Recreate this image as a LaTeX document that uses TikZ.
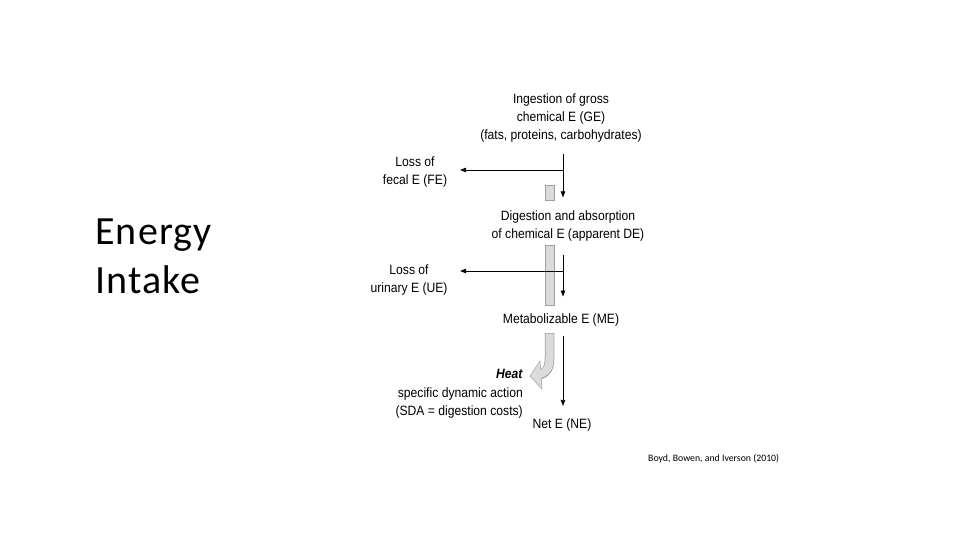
\documentclass[tikz,border=0pt]{standalone}
\usepackage{fontspec}
\setmainfont{Liberation Sans}
\newfontfamily\diagfont[FakeStretch=0.9]{Liberation Sans}
\newfontfamily\slidefont[LetterSpace=3]{Carlito}
\newfontfamily\citefont{Carlito}
\usetikzlibrary{arrows.meta}
\tikzset{
  lbl/.style={font=\diagfont\fontsize{13.5}{18.3}\selectfont, align=center, inner sep=0pt},
  flow/.style={-{Triangle[length=6pt,width=4.5pt]}, line width=0.7pt},
  gut/.style={draw=gray!75, fill=gray!28, line width=0.5pt}
}
\begin{document}
\begin{tikzpicture}[x=1pt, y=-1pt]
    \useasboundingbox (0,0) rectangle (960,540);
    % Title
    \node[font=\slidefont\fontsize{40}{49}\selectfont, align=left, inner sep=0pt,
          anchor=north west] (title) at (95,219) {Energy\\Intake};
    % Energy stages
    \node[lbl] (ge) at (561,118) {Ingestion of gross\\chemical E (GE)\\(fats, proteins, carbohydrates)};
    \node[lbl] (fe) at (415,172) {Loss of\\fecal E (FE)};
    \node[lbl] (de) at (568,226) {Digestion and absorption\\of chemical E (apparent DE)};
    \node[lbl] (ue) at (409,280) {Loss of\\urinary E (UE)};
    \node[lbl] (me) at (561,320) {Metabolizable E (ME)};
    \node[lbl, align=right, anchor=east] (heat) at (523,394)
        {\textbf{\textit{Heat}}\\specific dynamic action\\(SDA = digestion costs)};
    \node[lbl] (ne) at (562,425) {Net E (NE)};
    % Gut bars
    \draw[gut] (545,185) rectangle (554,200);
    \draw[gut] (545,245) rectangle (554,305);
    \draw[gray!75, line width=9.5pt] (549.5,333) -- (549.5,358)
        .. controls (549.5,369) and (546,373) .. (539,375);
    \filldraw[gut] (540,361) -- (530,376) -- (542,389) -- cycle;
    \draw[gray!28, line width=8pt] (549.5,333.5) -- (549.5,358)
        .. controls (549.5,369) and (546,373) .. (537,375);
    % Flows
    \coordinate (spine) at (563,0);
    \coordinate (fbranch) at (563,170);
    \coordinate (ubranch) at (563,271);
    \draw[flow, shorten <=11pt, shorten >=13pt] (ge.south -| spine) -- (de.north -| spine);
    \draw[flow, shorten >=12.8pt] (fbranch) -- (fbranch -| fe.east);
    \draw[flow, shorten <=13pt, shorten >=17pt] (de.south -| spine) -- (me.north -| spine);
    \draw[flow, shorten >=12.4pt] (ubranch) -- (ubranch -| ue.east);
    \draw[flow, shorten <=10pt, shorten >=12.6pt] (me.south -| spine) -- (ne.north -| spine);
    % Source
    \node[font=\citefont\fontsize{9.8}{11}\selectfont, anchor=west, inner sep=0pt]
        (cite) at (648,459) {Boyd, Bowen, and Iverson (2010)};
\end{tikzpicture}
\end{document}
